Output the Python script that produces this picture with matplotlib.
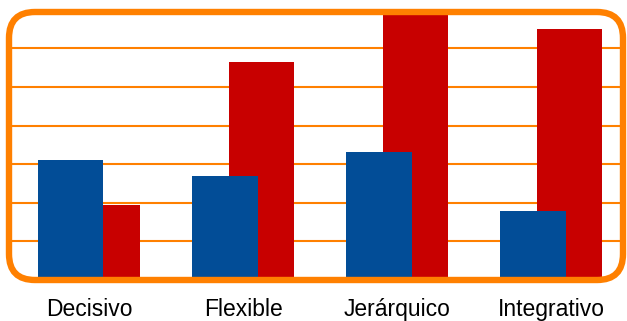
import matplotlib
matplotlib.use('Agg')

import numpy as np
import matplotlib.pyplot as plt
from matplotlib.patches import FancyBboxPatch

categorias = ['Decisivo', 'Flexible', 'Jerárquico', 'Integrativo']
serie_azul = [3.11, 2.69, 3.32, 1.79]
serie_roja = [1.94, 5.66, 7.2, 6.50]
lineas_guia = [1, 2, 3, 4, 5, 6]

azul = '#024D97'
rojo = '#C80000'
naranja = '#FF8000'

plt.rcParams['font.family'] = ['Liberation Sans', 'DejaVu Sans']

fig = plt.figure(figsize=(6.27, 3.21), dpi=100)
ax = fig.add_axes([0.01435, 0.12773, 0.97927, 0.83489])

x = np.arange(len(categorias))
ancho = 0.424
desplaz = 0.118

for y in lineas_guia:
    ax.axhline(y, color=naranja, lw=1.5, zorder=1)

# rojo primero: el azul se superpone
ax.bar(x + desplaz, serie_roja, width=ancho, color=rojo, zorder=2)
ax.bar(x - desplaz, serie_azul, width=ancho, color=azul, zorder=3)

ax.set_xlim(-0.519, 3.466)
ax.set_ylim(0, 6.943)
ax.set_yticks([])
ax.set_xticks(x)
ax.set_xticklabels(categorias, fontsize=16.5)
ax.tick_params(axis='x', length=0, pad=13)
for s in ax.spines.values():
    s.set_visible(False)

# marco redondeado alrededor del área de trazado
marco = FancyBboxPatch((0.09, 0.41), 6.14, 2.68,
                       boxstyle='round,pad=0,rounding_size=0.26',
                       transform=fig.dpi_scale_trans,
                       facecolor='none', edgecolor=naranja, lw=4.6, zorder=10)
fig.add_artist(marco)

plt.savefig('out.png', dpi=100)
